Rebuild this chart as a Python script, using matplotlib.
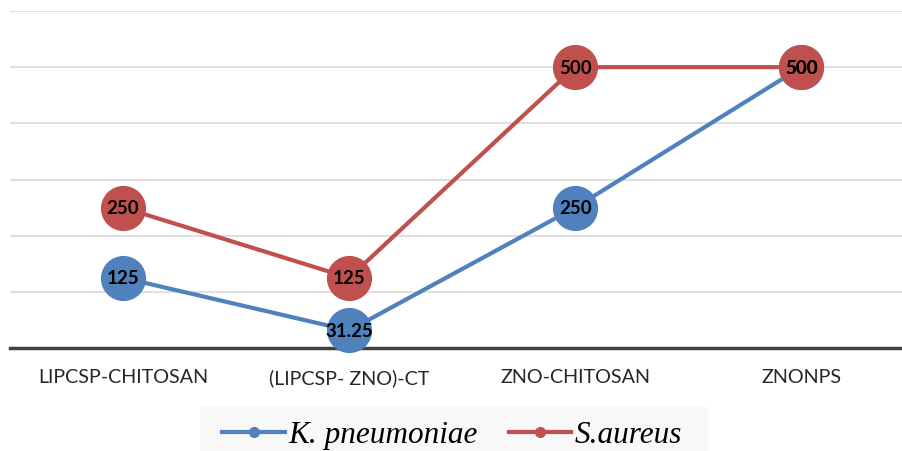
import matplotlib
matplotlib.use("Agg")
import matplotlib.pyplot as plt
from matplotlib.lines import Line2D
from matplotlib.patches import Rectangle

categories = ["LIPCSP-CHITOSAN", "(LIPCSP- ZNO)-CT", "ZNO-CHITOSAN", "ZNONPS"]
k_pneumoniae = [125, 31.25, 250, 500]
s_aureus = [250, 125, 500, 500]
labels_k = ["125", "31.25", "250", "500"]
labels_s = ["250", "125", "500", "500"]
series_names = ["K. pneumoniae", "S.aureus"]

blue = "#4F81BD"
red = "#C0504D"

W, H = 903, 452
fig = plt.figure(figsize=(W / 100, H / 100), dpi=100)
ax = fig.add_axes([10 / W, (H - 349) / H, (W - 10) / W, 337 / H])

x = list(range(len(categories)))
ax.set_xlim(-0.5, 3.45)
ax.set_ylim(0, 600)

ax.plot(x, k_pneumoniae, color=blue, lw=3, marker="o", ms=31.5, zorder=3, clip_on=False)
ax.plot(x, s_aureus, color=red, lw=3, marker="o", ms=31.5, zorder=4, clip_on=False)

for xi, yi, lab in zip(x, k_pneumoniae, labels_k):
    ax.text(xi, yi, lab, ha="center", va="center", fontsize=13.5, fontweight="bold",
            family="Lato", color="black", zorder=6)
for xi, yi, lab in zip(x, s_aureus, labels_s):
    ax.text(xi, yi, lab, ha="center", va="center", fontsize=13.5, fontweight="bold",
            family="Lato", color="black", zorder=7)

ax.set_yticks([100, 200, 300, 400, 500, 600])
ax.yaxis.grid(True, color="#D9D9D9", lw=1.2)
ax.set_axisbelow(True)
ax.tick_params(axis="y", left=False, labelleft=False)
for s in ["left", "right", "top"]:
    ax.spines[s].set_visible(False)
ax.spines["bottom"].set_color("#404040")
ax.spines["bottom"].set_linewidth(2.5)
ax.spines["bottom"].set_zorder(2)

ax.set_xticks(x)
ax.set_xticklabels(categories, family="Lato", fontsize=14.2, color="#262626")
ax.tick_params(axis="x", bottom=False, pad=11)

# legend background
fig.patches.append(Rectangle((200 / W, 0), 508 / W, 44 / H, transform=fig.transFigure,
                             facecolor="#F8F8F8", edgecolor="none", zorder=0))
handles = [Line2D([], [], color=blue, lw=3, marker="o", ms=7),
           Line2D([], [], color=red, lw=3, marker="o", ms=7)]
leg = fig.legend(handles, series_names, loc="center", bbox_to_anchor=(452 / W, (H - 436) / H),
                 ncol=2, frameon=False, handlelength=2.0, handletextpad=0.1, columnspacing=1.0,
                 prop={"family": "Liberation Serif", "style": "italic", "size": 22.5})

fig.savefig("out.png", dpi=100)
